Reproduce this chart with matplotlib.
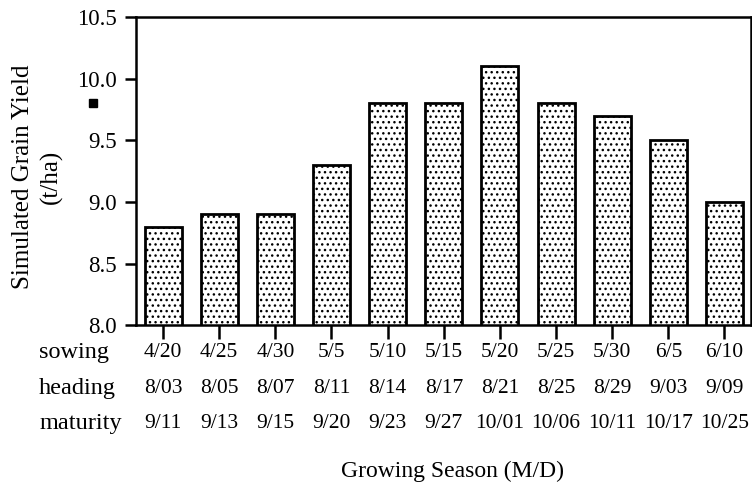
import matplotlib
matplotlib.use('Agg')
import matplotlib.pyplot as plt
import matplotlib.transforms as mtransforms
import numpy as np

plt.rcParams['font.family'] = ['Liberation Serif', 'DejaVu Serif']
plt.rcParams['font.size'] = 16
plt.rcParams['hatch.linewidth'] = 1.0

# simulated yield for each sowing date
sowing = ['4/20', '4/25', '4/30', '5/5', '5/10', '5/15', '5/20', '5/25', '5/30', '6/5', '6/10']
heading = ['8/03', '8/05', '8/07', '8/11', '8/14', '8/17', '8/21', '8/25', '8/29', '9/03', '9/09']
maturity = ['9/11', '9/13', '9/15', '9/20', '9/23', '9/27', '10/01', '10/06', '10/11', '10/17', '10/25']
yield_tha = [8.8, 8.9, 8.9, 9.3, 9.8, 9.8, 10.1, 9.8, 9.7, 9.5, 9.0]
row_names = ['sowing', 'heading', 'maturity']

fig = plt.figure(figsize=(7.52, 4.86), dpi=100)
ax = fig.add_axes([0.181, 0.331, 0.8175, 0.634])

x = np.arange(len(sowing))
ax.bar(x, yield_tha, width=0.66, bottom=0, color='white', edgecolor='black',
       linewidth=2.0, hatch='...')

ax.set_ylim(8.0, 10.5)
ax.set_xlim(-0.48, 10.47)
ax.set_yticks([8.0, 8.5, 9.0, 9.5, 10.0, 10.5])
ax.set_yticklabels(['8.0', '8.5', '9.0', '9.5', '10.0', '10.5'], fontsize=16.5)
ax.set_xticks(x)
ax.set_xticklabels([])
ax.tick_params(axis='y', direction='out', length=8, width=1.8, pad=6)
ax.tick_params(axis='x', direction='out', length=10, width=1.8)
for s in ax.spines.values():
    s.set_linewidth(1.8)

# date rows under each bar
trans = mtransforms.blended_transform_factory(ax.transData, fig.transFigure)
rows = [sowing, heading, maturity]
row_y = [0.274, 0.2016, 0.1296]
for name, labels, yy in zip(row_names, rows, row_y):
    fig.text(0.052, yy, name, ha='left', va='center', fontsize=17.5)
    for xi, lab in zip(x, labels):
        ax.text(xi, yy, lab, transform=trans, ha='center', va='center',
                fontsize=15.5, clip_on=False)

fig.text(0.602, 0.029, 'Growing Season (M/D)', ha='center', va='center', fontsize=17)
fig.text(0.05, 0.636, 'Simulated Grain Yield\n(t/ha)', rotation=90, fontsize=18,
         ha='center', va='center', linespacing=1.3, multialignment='center')

# small filled square beside the axis
fig.add_artist(plt.Line2D([0.1243], [0.788], marker='s', markersize=5.2,
                          color='black', linestyle='none'))

fig.savefig('out.png', dpi=100)
